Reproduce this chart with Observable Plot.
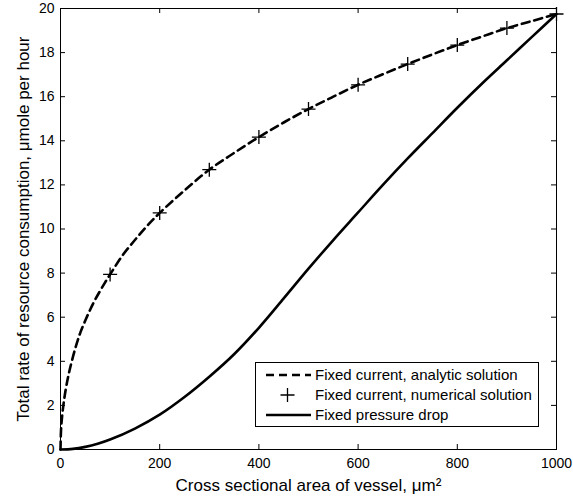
<!DOCTYPE html>
<html>
<head>
<meta charset="utf-8">
<script src="https://cdn.jsdelivr.net/npm/d3@7"></script>
<script src="https://cdn.jsdelivr.net/npm/@observablehq/plot@0.6"></script>
<style>
  body { margin: 0; background: #fff; font-family: "Liberation Sans", Arial, Helvetica, sans-serif; }
  #chart { position: relative; width: 573px; height: 501px; }
  .legend { position: absolute; left: 255px; top: 362px; width: 284px; height: 65px;
            box-sizing: border-box; border: 1px solid #000; background: #fff; padding-top: 2px; }
  .legend .row { position: relative; height: 20px; line-height: 20px; font-size: 15px; color: #000; }
  .legend svg { position: absolute; left: 0; top: 0; }
  .legend span { position: absolute; left: 59px; top: 0; white-space: nowrap; }
</style>
</head>
<body>
<div id="chart"></div>
<script>
// Axis ticks
const xTicks = [0, 200, 400, 600, 800, 1000];
const yTicks = [0, 2, 4, 6, 8, 10, 12, 14, 16, 18, 20];

// Fixed current, analytic solution (dashed curve)
const analyticArea = [0, 1, 3, 6, 10, 15, 20, 30, 40, 50, 60, 70, 80, 90, 100, 125, 150, 175, 200, 250,
                      300, 350, 400, 450, 500, 550, 600, 650, 700, 750, 800, 850, 900, 950, 1000];
const analyticRate = [0, 0.85, 1.45, 2.05, 2.65, 3.25, 3.75, 4.6, 5.3, 5.85, 6.35, 6.8, 7.2, 7.58, 7.94, 8.8, 9.5, 10.15, 10.73, 11.75,
                      12.69, 13.45, 14.17, 14.83, 15.44, 16.0, 16.54, 17.02, 17.48, 17.92, 18.34, 18.73, 19.11, 19.43, 19.75];

// Fixed current, numerical solution (plus markers)
const numericArea = [100, 200, 300, 400, 500, 600, 700, 800, 900, 1000];
const numericRate = [7.94, 10.73, 12.69, 14.17, 15.44, 16.54, 17.48, 18.34, 19.11, 19.75];

// Fixed pressure drop (solid curve)
const pressureArea = [0, 25, 50, 75, 100, 150, 200, 250, 300, 350, 400, 450, 500, 550, 600, 650, 700, 750, 800, 850, 900, 950, 1000];
const pressureRate = [0, 0.03, 0.12, 0.26, 0.45, 0.95, 1.58, 2.38, 3.3, 4.32, 5.52, 6.85, 8.2, 9.5, 10.75, 12.0, 13.2, 14.35, 15.5, 16.6, 17.65, 18.7, 19.75];

const xLabel = "Cross sectional area of vessel, \u03bcm\u00b2";
const yLabel = "Total rate of resource consumption, \u03bcmole per hour";
const legendLabels = ["Fixed current, analytic solution", "Fixed current, numerical solution", "Fixed pressure drop"];

const analytic = analyticArea.map((a, i) => ({area: a, rate: analyticRate[i]}));
const numeric = numericArea.map((a, i) => ({area: a, rate: numericRate[i]}));
const pressure = pressureArea.map((a, i) => ({area: a, rate: pressureRate[i]}));

// thin stroked "+" marker
const plusSymbol = {
  draw(ctx, size) {
    const r = Math.sqrt(size / Math.PI);
    ctx.moveTo(-r, 0); ctx.lineTo(r, 0);
    ctx.moveTo(0, -r); ctx.lineTo(0, r);
  }
};

const W = 573, H = 501, mt = 8, mr = 17, mb = 52, ml = 60;
const innerW = W - ml - mr, innerH = H - mt - mb;
const tick = 5;
const dash = "8,5";
const font = '"Liberation Sans", Arial, Helvetica, sans-serif';

const chart = Plot.plot({
  width: W, height: H,
  marginTop: mt, marginRight: mr, marginBottom: mb, marginLeft: ml,
  style: {fontFamily: font, fontSize: "14px", color: "#000", background: "#fff", overflow: "visible"},
  x: {domain: [0, 1000]},
  y: {domain: [0, 20]},
  marks: [
    Plot.line(pressure, {x: "area", y: "rate", stroke: "#000", strokeWidth: 2.6, curve: "catmull-rom"}),
    Plot.line(analytic, {x: "area", y: "rate", stroke: "#000", strokeWidth: 2.6, strokeDasharray: dash, curve: "catmull-rom"}),
    Plot.dot(numeric, {x: "area", y: "rate", symbol: plusSymbol, r: 7, stroke: "#000", strokeWidth: 1.3, fill: "none"}),
    // inward ticks on all four sides
    Plot.tickX(xTicks, {x: d => d, insetTop: innerH - tick, stroke: "#000"}),
    Plot.tickX(xTicks, {x: d => d, insetBottom: innerH - tick, stroke: "#000"}),
    Plot.tickY(yTicks, {y: d => d, insetRight: innerW - tick, stroke: "#000"}),
    Plot.tickY(yTicks, {y: d => d, insetLeft: innerW - tick, stroke: "#000"}),
    Plot.frame({stroke: "#000", strokeWidth: 1}),
    Plot.axisX(xTicks, {tickSize: 0, tickPadding: 9, label: null, fontSize: 14, tickFormat: d3.format("d")}),
    Plot.axisY(yTicks, {tickSize: 0, tickPadding: 6, label: null, fontSize: 14, tickFormat: d3.format("d")}),
    Plot.text([xLabel], {frameAnchor: "bottom", dy: 41, fontSize: 17, fill: "#000"}),
    Plot.text([yLabel], {frameAnchor: "left", dx: -37, rotate: -90, textAnchor: "middle", lineAnchor: "middle", fontSize: 17, fill: "#000"})
  ]
});

const root = document.getElementById("chart");
root.appendChild(chart);

// legend box inside the plot area
const legend = document.createElement("div");
legend.className = "legend";
const samples = [
  `<line x1="10" x2="55" y1="10" y2="10" stroke="#000" stroke-width="2.6" stroke-dasharray="${dash}"/>`,
  `<path d="M24.5,10H38.5M31.5,3V17" stroke="#000" stroke-width="1.3" fill="none"/>`,
  `<line x1="10" x2="55" y1="10" y2="10" stroke="#000" stroke-width="2.6"/>`
];
legendLabels.forEach((lab, i) => {
  const row = document.createElement("div");
  row.className = "row";
  row.innerHTML = `<svg width="58" height="20">${samples[i]}</svg><span>${lab}</span>`;
  legend.appendChild(row);
});
root.appendChild(legend);
</script>
</body>
</html>
